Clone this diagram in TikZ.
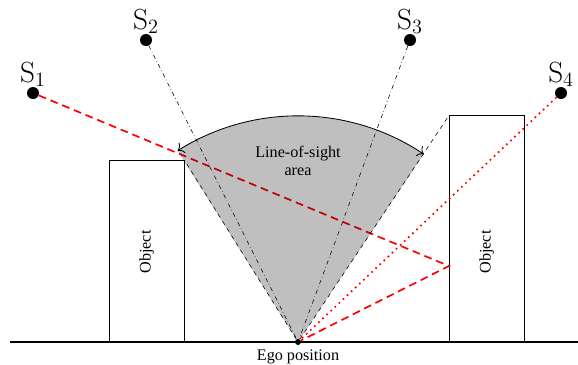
\documentclass[tikz,border=0pt]{standalone}
\usepackage[no-math]{fontspec}
\setmainfont{Liberation Serif}
\usetikzlibrary{
    arrows.meta,
    positioning,
    calc
}
\tikzstyle{sensor} = [
    circle,
    fill=black,
    inner sep=0pt,
    minimum size=0.3cm
]
\tikzstyle{sensorlabel} = [
    inner sep=1pt,
    font=\huge
]
\tikzstyle{egodot} = [
    circle,
    fill=black,
    inner sep=0pt,
    minimum size=0.15cm
]
\tikzstyle{object} = [
    rectangle,
    draw=black,
    thin,
    anchor=south west,
    inner sep=0pt,
    minimum width=1.875cm
]
\tikzstyle{objtext} = [
    rotate=90,
    font=\fontsize{11.5}{13}\selectfont
]
\tikzstyle{losarea} = [
    fill=black,
    fill opacity=0.25
]
\tikzstyle{losedge} = [
    dashed,
    thin
]
\tikzstyle{losarc} = [
    {To[scale=1.4]}-{To[scale=1.4]},
    semithick
]
\tikzstyle{direct} = [
    dash dot,
    thin
]
\tikzstyle{reflpath} = [
    red,
    line width=1.2pt,
    dash pattern=on 5.5pt off 3.5pt
]
\tikzstyle{blocked} = [
    red,
    line width=1.2pt,
    dash pattern=on 1.2pt off 2.8pt
]
\tikzstyle{ground} = [
    line width=1.2pt
]

\begin{document}
\begin{tikzpicture}[x=0.025cm, y=-0.025cm]
    \useasboundingbox (0,0) rectangle (578,364);

    % sensors
    \node[sensor] (s1) at (33,93) {};
    \node[sensor] (s2) at (146,40) {};
    \node[sensor] (s3) at (410,40) {};
    \node[sensor] (s4) at (561,93) {};
    \node[sensorlabel, above=-1pt of s1] {$\mathrm{S}_1$};
    \node[sensorlabel, above=-1pt of s2] {$\mathrm{S}_2$};
    \node[sensorlabel, above=-1pt of s3] {$\mathrm{S}_3$};
    \node[sensorlabel, above=-1pt of s4] {$\mathrm{S}_4$};

    % ego and objects
    \node[egodot] (ego) at (298,342) {};
    \node[below=0pt of ego, font=\fontsize{11.5}{13}\selectfont] (egotext) {Ego position};
    \node[object, minimum height=4.525cm] (objL) at (109,342) {};
    \node[object, minimum height=5.65cm] (objR) at (449,342) {};
    \node[objtext] at ($(objL.south)+(0,-90)$) {Object};
    \node[objtext] at ($(objR.south)+(0,-90)$) {Object};
    \coordinate (refl) at ($(objR.south west)+(0,-76)$);

    % signal paths
    \draw[direct] (s2) -- (ego);
    \draw[direct] (s3) -- (ego);
    \draw[reflpath] (s1) -- (refl) -- (ego);
    \draw[blocked] (s4) -- (ego);

    % line-of-sight area
    \fill[losarea] (ego.center) -- +(122.2:5.65cm) arc[start angle=122.2, end angle=56.2, radius=5.65cm] -- cycle;
    \draw[losedge] (ego) -- (objL.north east);
    \draw[losedge] (ego) -- (objR.north west);
    \draw[losarc] ($(ego.center)+(122.2:5.65cm)$) arc[start angle=122.2, end angle=56.2, radius=5.65cm];
    \node[align=center, font=\fontsize{11.5}{13}\selectfont] (lostext) at (298,161) {Line-of-sight\\area};

    \draw[ground] (10,342) -- (578,342);
\end{tikzpicture}
\end{document}
